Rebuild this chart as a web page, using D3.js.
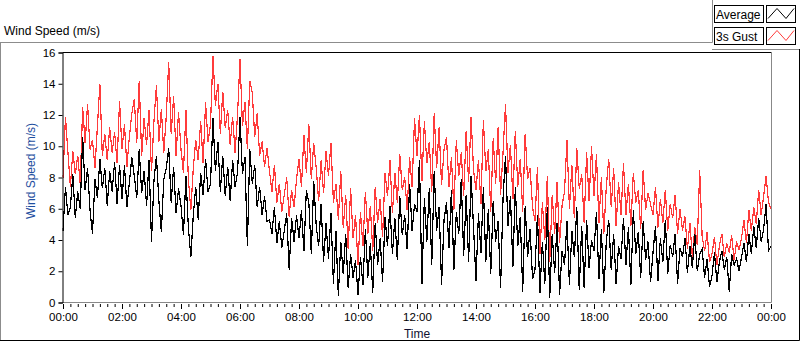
<!DOCTYPE html>
<html>
<head>
<meta charset="utf-8">
<script src="https://cdn.jsdelivr.net/npm/d3@7"></script>
<style>
    body { margin: 0; background: #fff; }
    svg text { font-family: "Liberation Sans", Arial, sans-serif; }
</style>
</head>
<body>
<svg id="chart" width="800" height="342"></svg>
<script>
// one value every 5 minutes, 12 per hour, 00:00 .. 24:00
const STEP_MIN = 5;

const AVERAGE = [
    4.6, 7.4, 5.6, 6.1, 8.2, 5.4, 7.1, 6.0, 10.6, 7.2, 8.6, 5.9,
    4.4, 7.9, 6.7, 9.2, 7.3, 8.6, 6.2, 8.4, 7.1, 9.0, 6.3, 8.8,
    6.6, 8.8, 6.1, 7.7, 9.3, 8.1, 6.7, 9.8, 7.0, 8.4, 6.2, 9.1,
    3.9, 7.8, 9.4, 6.5, 4.5, 7.9, 8.6, 9.9, 6.4, 8.7, 5.7, 7.3,
    6.2, 4.3, 8.1, 4.8, 2.9, 5.6, 7.4, 5.3, 8.3, 6.9, 9.2, 7.1,
    7.6, 11.8, 8.4, 10.3, 7.1, 9.4, 6.8, 8.7, 6.5, 9.1, 7.4, 8.3,
    11.9, 8.2, 9.3, 3.6, 9.8, 7.6, 8.8, 6.1, 7.4, 5.6, 6.8, 5.2,
    5.3, 4.4, 6.1, 3.8, 5.2, 3.5, 4.6, 5.7, 2.1, 5.4, 3.9, 5.6,
    4.1, 5.9, 3.3, 7.2, 6.4, 3.1, 7.8, 4.9, 3.6, 6.3, 2.6, 5.1,
    2.8, 5.7, 1.2, 4.6, 0.4, 3.9, 1.8, 4.4, 0.9, 3.1, 1.6, 2.7,
    0.5, 2.9, 1.1, 4.7, 1.6, 3.8, 0.6, 5.1, 2.4, 4.1, 1.3, 5.5,
    3.6, 6.2, 3.1, 5.4, 2.7, 6.8, 4.3, 5.6, 3.4, 7.6, 4.6, 6.3,
    5.8, 9.1, 1.2, 6.7, 3.9, 7.3, 2.4, 8.4, 4.6, 6.1, 1.1, 5.3,
    6.4, 3.5, 7.2, 2.1, 5.8, 4.4, 7.9, 3.0, 6.9, 2.6, 8.1, 4.8,
    1.4, 5.7, 3.2, 7.4, 2.6, 6.0, 1.8, 6.5, 3.9, 5.2, 0.9, 6.7,
    9.4, 4.9, 6.8, 2.3, 7.4, 3.6, 5.5, 0.7, 6.2, 2.9, 4.7, 1.5,
    2.1, 5.6, 0.6, 3.9, 1.2, 6.1, 0.3, 4.4, 1.9, 5.1, 0.5, 3.3,
    2.4, 5.2, 1.1, 4.6, 2.9, 6.1, 0.8, 4.9, 0.9, 5.3, 2.2, 4.0,
    3.3, 5.8, 1.5, 4.7, 0.6, 3.9, 5.3, 2.1, 4.4, 1.2, 3.6, 2.8,
    5.4, 2.4, 4.8, 1.1, 5.9, 3.1, 4.5, 1.6, 5.2, 2.7, 3.9, 1.3,
    3.2, 4.9, 1.4, 4.1, 2.6, 5.3, 1.8, 3.7, 2.9, 4.4, 1.2, 3.5,
    2.9, 4.1, 1.9, 3.6, 2.2, 4.4, 2.0, 3.1, 3.4, 1.6, 2.8, 1.0,
    1.7, 3.2, 1.3, 2.6, 3.3, 2.1, 2.9, 0.7, 3.1, 2.4, 2.8, 2.0,
    2.9, 3.8, 2.6, 4.4, 3.1, 4.9, 3.5, 5.4, 3.9, 4.7, 6.3, 3.3,
    3.6
];

const GUST = [
    8.0, 11.9, 9.6, 7.4, 9.7, 8.2, 9.4, 7.6, 12.5, 10.2, 12.7, 9.8,
    10.4, 8.6, 11.3, 14.0, 9.4, 10.8, 9.1, 11.2, 9.6, 10.9, 8.9, 12.9,
    9.8, 11.4, 8.7, 10.6, 12.1, 13.0, 10.2, 14.2, 9.4, 11.8, 10.1, 12.3,
    8.4, 11.6, 13.9, 10.3, 12.4, 9.6, 11.9, 15.4, 10.8, 13.2, 9.4, 12.2,
    9.8, 8.3, 12.3, 7.9, 5.9, 8.6, 10.4, 9.1, 11.6, 8.9, 12.8, 10.3,
    11.4, 15.8, 12.6, 14.0, 10.8, 13.5, 11.2, 12.3, 10.1, 11.9, 9.6, 12.0,
    15.6, 11.3, 12.8, 9.8, 14.2, 13.4, 10.6, 12.1, 9.4, 10.3, 8.7, 9.9,
    8.4, 7.1, 8.8, 6.4, 7.6, 5.8, 6.9, 8.0, 5.5, 7.2, 6.1, 7.9,
    9.2, 7.4, 10.7, 8.3, 11.4, 7.9, 10.2, 8.6, 6.5, 9.1, 7.0, 9.7,
    8.1, 10.2, 6.4, 7.6, 5.3, 8.4, 4.8, 6.9, 3.4, 7.3, 4.1, 5.6,
    2.4, 5.8, 3.6, 7.1, 4.4, 6.2, 3.3, 7.4, 5.1, 6.6, 4.2, 8.3,
    6.8, 9.1, 5.7, 8.3, 6.4, 9.5, 7.2, 8.0, 5.9, 9.3, 7.4, 11.8,
    9.4, 12.0, 7.8, 11.6, 8.9, 10.3, 7.1, 12.1, 8.6, 11.2, 7.5, 9.8,
    10.6, 7.4, 9.3, 5.9, 10.4, 8.1, 9.6, 6.8, 11.0, 7.7, 11.9, 8.5,
    7.2, 9.1, 6.3, 11.7, 8.4, 9.8, 5.8, 10.5, 7.6, 11.2, 6.9, 9.6,
    12.7, 8.3, 10.1, 6.6, 11.0, 7.4, 9.2, 5.8, 10.8, 7.9, 8.6, 6.1,
    5.2, 8.7, 3.1, 6.4, 4.0, 8.1, 2.6, 6.9, 4.4, 7.7, 3.8, 6.2,
    7.1, 10.4, 6.0, 8.8, 5.4, 9.9, 7.3, 8.2, 5.1, 9.6, 6.5, 10.0,
    6.8, 9.5, 5.1, 8.0, 4.4, 7.4, 9.2, 6.1, 8.6, 4.9, 7.7, 5.6,
    8.9, 5.6, 7.6, 4.9, 8.3, 6.4, 7.2, 4.7, 8.5, 5.9, 7.0, 6.3,
    5.6, 7.4, 4.8, 6.6, 5.1, 7.2, 4.6, 6.3, 5.4, 6.9, 4.4, 6.0,
    4.6, 5.5, 3.4, 5.1, 2.9, 4.8, 3.7, 8.5, 4.2, 3.3, 4.5, 2.6,
    3.1, 4.2, 2.4, 3.6, 4.4, 2.9, 3.8, 3.2, 4.3, 2.7, 3.9, 3.4,
    4.1, 5.3, 3.8, 5.9, 4.6, 6.1, 5.0, 7.2, 5.6, 6.8, 8.1, 6.4,
    6.0
];

const TIME_LABELS = ['00:00', '02:00', '04:00', '06:00', '08:00', '10:00', '12:00',
    '14:00', '16:00', '18:00', '20:00', '22:00', '00:00'];
const Y_TICKS = [0, 2, 4, 6, 8, 10, 12, 14, 16];
const SERIES_NAMES = ['Average', '3s Gust'];
const SERIES_COLORS = ['#000000', '#ff3b3b'];

const svg = d3.select('#chart');
const plot = { left: 62.5, right: 771.5, top: 52.5, bottom: 302.5 };

const xScale = d3.scaleLinear()
    .domain([0, 24 * 60])
    .range([63, 771]);

const yScale = d3.scaleLinear()
    .domain([0, 16])
    .range([302.5, 52.5]);

// outer panel frame
const frame = svg.append('g').attr('fill', 'none');
frame.append('path').attr('d', 'M0,42.5H712.5V0').attr('stroke', '#8c8c8c');
frame.append('path').attr('d', 'M0.5,42V341').attr('stroke', '#8c8c8c');
frame.append('path').attr('d', 'M712,49.5H800').attr('stroke', '#8c8c8c');
frame.append('path').attr('d', 'M0,340.5H799.5V49').attr('stroke', '#000');

svg.append('text')
    .attr('x', 4)
    .attr('y', 35)
    .style('font-size', '12px')
    .text('Wind Speed (m/s)');

// legend
SERIES_NAMES.forEach((name, i) => {
    const y0 = 5.5 + i * 22;
    const g = svg.append('g');
    g.append('rect')
        .attr('x', 714.5).attr('y', y0)
        .attr('width', 49).attr('height', 17)
        .attr('fill', '#fff').attr('stroke', '#000');
    g.append('text')
        .attr('x', 716).attr('y', y0 + 13)
        .style('font-size', '12px')
        .text(name);
    g.append('rect')
        .attr('x', 766.5).attr('y', y0)
        .attr('width', 29).attr('height', 17)
        .attr('fill', '#fff').attr('stroke', '#000');
    g.append('path')
        .attr('d', `M768,${y0 + 13}L777,${y0 + 3}L786,${y0 + 13}L794,${y0 + 3}`)
        .attr('fill', 'none')
        .attr('stroke', SERIES_COLORS[i]);
});

// plot area
svg.append('rect')
    .attr('x', plot.left).attr('y', plot.top)
    .attr('width', plot.right - plot.left).attr('height', plot.bottom - plot.top)
    .attr('fill', '#fff');

svg.append('clipPath').attr('id', 'clip')
    .append('rect')
    .attr('x', plot.left).attr('y', plot.top)
    .attr('width', plot.right - plot.left).attr('height', plot.bottom - plot.top);

const line = d3.line()
    .x((d, i) => xScale(i * STEP_MIN))
    .y(d => yScale(d));

// gust behind, average on top; aliased like the original
[[GUST, SERIES_COLORS[1]], [AVERAGE, SERIES_COLORS[0]]].forEach(([data, color]) => {
    svg.append('path')
        .datum(data)
        .attr('clip-path', 'url(#clip)')
        .attr('fill', 'none')
        .attr('stroke', color)
        .attr('stroke-width', 1.2)
        .attr('shape-rendering', 'crispEdges')
        .attr('d', line);
});

svg.append('path')
    .attr('d', `M${plot.left},${plot.top}H${plot.right}`)
    .attr('stroke', '#000');
svg.append('path')
    .attr('d', `M${plot.right},${plot.top}V${plot.bottom}H${plot.left}`)
    .attr('fill', 'none')
    .attr('stroke', '#888');

// y axis
const yAxis = svg.append('g')
    .attr('transform', `translate(${plot.left},0)`)
    .call(d3.axisLeft(yScale).tickValues(Y_TICKS).tickSize(4).tickPadding(3).tickFormat(d3.format('d')));
yAxis.selectAll('text').style('font-size', '11.5px').attr('fill', '#000');
yAxis.select('.domain').attr('stroke', '#000');

svg.append('text')
    .attr('transform', 'translate(35,171) rotate(-90)')
    .attr('text-anchor', 'middle')
    .attr('fill', '#1f4fa0')
    .style('font-size', '12px')
    .text('Wind Speed (m/s)');

// x axis: minor ticks every 15 min, labelled every 2 h
const minorTicks = d3.range(0, 24 * 60 + 1, 15);
const xMinor = svg.append('g')
    .attr('transform', 'translate(0,304)')
    .call(d3.axisBottom(xScale).tickValues(minorTicks).tickSize(3).tickFormat(''));
xMinor.select('.domain').remove();

const majorTicks = TIME_LABELS.map((d, i) => i * 120);
const xMajor = svg.append('g')
    .attr('transform', 'translate(0,304)')
    .call(d3.axisBottom(xScale).tickValues(majorTicks).tickSize(5).tickPadding(4)
        .tickFormat((d, i) => TIME_LABELS[i]));
xMajor.select('.domain').remove();
xMajor.selectAll('text').style('font-size', '11.5px').attr('fill', '#000');

svg.append('text')
    .attr('x', (plot.left + plot.right) / 2)
    .attr('y', 338)
    .attr('text-anchor', 'middle')
    .attr('fill', '#101030')
    .style('font-size', '12px')
    .text('Time');
</script>
</body>
</html>
